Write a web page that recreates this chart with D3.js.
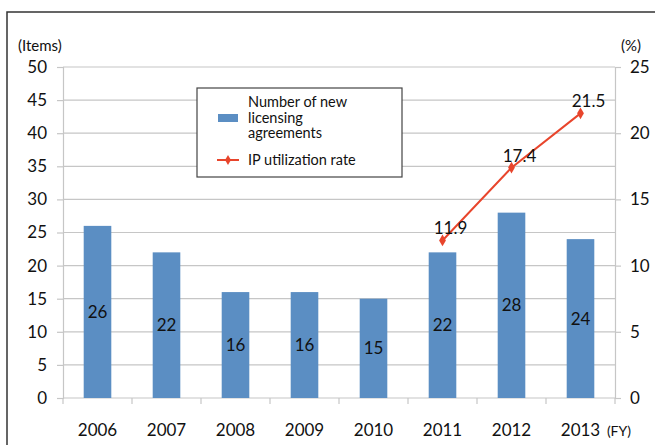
<!DOCTYPE html>
<html><head><meta charset="utf-8">
<script src="https://cdn.jsdelivr.net/npm/d3@7"></script>
<style>body{margin:0;background:#fff}svg{display:block}text{font-family:Lato,"Open Sans",sans-serif}</style>
</head><body><svg id="c" width="655" height="445"></svg>
<script>
const years = ["2006","2007","2008","2009","2010","2011","2012","2013"];
const agreements = [26,22,16,16,15,22,28,24];
const rateYears = ["2011","2012","2013"];
const rates = [11.9,17.4,21.5];
const leftTicks = [0,5,10,15,20,25,30,35,40,45,50];
const rightTicks = [0,5,10,15,20,25];

const svg = d3.select("#c");
const L = 63, R = 615, T = 67, B = 398;
const FONT = "Lato, 'Open Sans', sans-serif";
const x = d3.scaleBand().domain(years).range([L, R]).paddingInner(0.6).paddingOuter(0.3);
const yL = d3.scaleLinear().domain([0,50]).range([B, T]);
const yR = d3.scaleLinear().domain([0,25]).range([B, T]);
const grid = "#c6c6c6", barC = "#5b8ec3", lineC = "#e8452c", txt = "#111";

// frame
svg.append("path").attr("d","M7,446 V12 H656").attr("fill","none").attr("stroke","#333").attr("stroke-width",1.5);

// gridlines
svg.append("g").selectAll("line").data(leftTicks.slice(1)).join("line")
  .attr("x1",L).attr("x2",R).attr("y1",d=>yL(d)).attr("y2",d=>yL(d)).attr("stroke",grid).attr("stroke-width",1.2);

// left axis
const gl = svg.append("g").attr("transform",`translate(${L},0)`)
  .call(d3.axisLeft(yL).tickValues(leftTicks).tickSize(6).tickPadding(10));
gl.select(".domain").attr("stroke",grid).attr("stroke-width",1.2);
gl.selectAll(".tick line").attr("stroke",grid).attr("stroke-width",1.2);
gl.selectAll("text").attr("font-size",17).attr("fill",txt).style("font-family",FONT);

// right axis
const gr = svg.append("g").attr("transform",`translate(${R},0)`)
  .call(d3.axisRight(yR).tickValues(rightTicks).tickSize(6).tickPadding(9));
gr.select(".domain").attr("stroke",grid).attr("stroke-width",1.2);
gr.selectAll(".tick line").attr("stroke",grid).attr("stroke-width",1.2);
gr.selectAll("text").attr("font-size",17).attr("fill",txt).style("font-family",FONT);

// x axis
svg.append("line").attr("x1",L).attr("x2",R).attr("y1",B).attr("y2",B).attr("stroke",grid).attr("stroke-width",1.2);
const bounds = years.map((d,i)=> L + i*x.step());
bounds.push(R);
svg.append("g").selectAll("line").data(bounds).join("line")
  .attr("x1",d=>d).attr("x2",d=>d).attr("y1",B).attr("y2",B+6).attr("stroke",grid).attr("stroke-width",1.2);
svg.append("g").selectAll("text").data(years).join("text")
  .attr("x",d=>x(d)+x.bandwidth()/2).attr("y",436).attr("text-anchor","middle")
  .attr("font-size",17).attr("fill",txt).text(d=>d);
svg.append("text").attr("x",619).attr("y",436).attr("text-anchor","middle").attr("font-size",14).attr("fill",txt).text("(FY)");

// axis titles
svg.append("text").attr("x",18).attr("y",51).attr("font-size",15).attr("fill",txt).text("(Items)");
svg.append("text").attr("x",621).attr("y",51).attr("font-size",15).attr("fill",txt).text("(%)");

// bars
svg.append("g").selectAll("rect").data(years).join("rect")
  .attr("x",d=>x(d)).attr("width",x.bandwidth())
  .attr("y",(d,i)=>yL(agreements[i])).attr("height",(d,i)=>B-yL(agreements[i]))
  .attr("fill",barC);
svg.append("g").selectAll("text").data(years).join("text")
  .attr("x",d=>x(d)+x.bandwidth()/2).attr("y",(d,i)=>(yL(agreements[i])+B)/2+6)
  .attr("text-anchor","middle").attr("font-size",17).attr("fill",txt).text((d,i)=>agreements[i]);

// line
const cx = d => x(d)+x.bandwidth()/2;
svg.append("path").datum(rateYears.map((d,i)=>[cx(d), yR(rates[i])]))
  .attr("d", d3.line()).attr("fill","none").attr("stroke",lineC).attr("stroke-width",2);
svg.append("g").selectAll("path").data(rateYears).join("path")
  .attr("d", d3.symbol(d3.symbolDiamond, 40)())
  .attr("transform",(d,i)=>`translate(${cx(d)},${yR(rates[i])})`).attr("fill",lineC);
svg.append("g").selectAll("text").data(rateYears).join("text")
  .attr("x",d=>cx(d)+8).attr("y",(d,i)=>yR(rates[i])-6)
  .attr("text-anchor","middle").attr("font-size",17).attr("fill",txt).text((d,i)=>rates[i].toFixed(1));

// legend
const lg = svg.append("g");
lg.append("rect").attr("x",197).attr("y",88).attr("width",205).attr("height",89)
  .attr("fill","#fff").attr("stroke","#444").attr("stroke-width",1.2);
lg.append("rect").attr("x",218).attr("y",114).attr("width",20).attr("height",8).attr("fill",barC);
["Number of new","licensing","agreements"].forEach((t,i)=>{
  lg.append("text").attr("x",248).attr("y",107+i*15.5).attr("font-size",14.5).attr("fill",txt).text(t);
});
lg.append("line").attr("x1",217).attr("x2",239).attr("y1",160).attr("y2",160).attr("stroke",lineC).attr("stroke-width",2);
lg.append("path").attr("d", d3.symbol(d3.symbolDiamond, 30)()).attr("transform","translate(228,160)").attr("fill",lineC);
lg.append("text").attr("x",248).attr("y",165).attr("font-size",14.5).attr("fill",txt).text("IP utilization rate");
</script></body></html>
